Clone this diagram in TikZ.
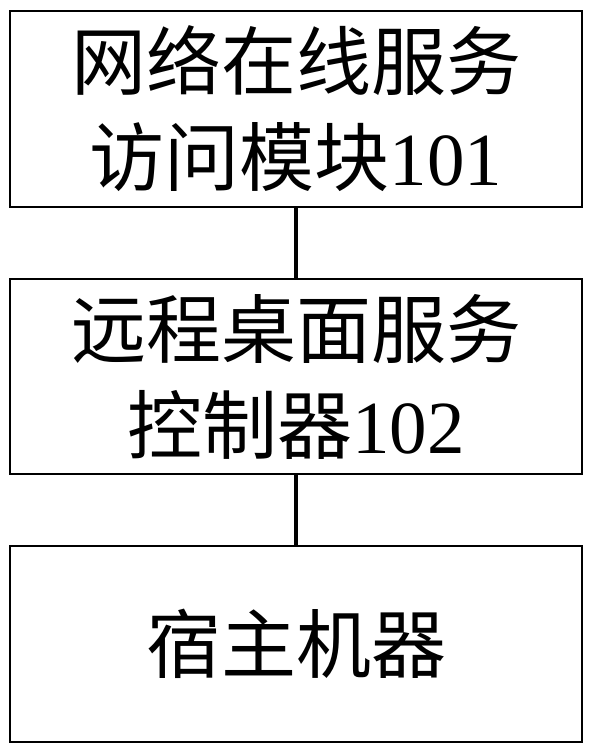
\documentclass[tikz,border=0pt]{standalone}
\usepackage{fontspec}
\setmainfont{Liberation Serif}
\newfontfamily\cjk{Noto Sans CJK SC}
\begin{document}
\begin{tikzpicture}[x=1pt,y=1pt,
  box/.style={draw=black,line width=2pt,minimum width=572pt,minimum height=196pt,
    inner sep=0pt,align=center,font=\fontsize{75}{96}\selectfont},
  link/.style={draw=black,line width=3.5pt}]
\useasboundingbox[fill=white] (0,0) rectangle (596,-755);
\node[box] (b1) at (296,-109) {{\cjk 网络在线服务}\\{\cjk 访问模块}101};
\node[box,minimum height=195pt] (b2) at (296,-376.5) {{\cjk 远程桌面服务}\\{\cjk 控制器}102};
\node[box] (b3) at (296,-644) {{\cjk 宿主机器}};
\draw[link] (b1.south) -- (b2.north);
\draw[link] (b2.south) -- (b3.north);
\end{tikzpicture}
\end{document}
